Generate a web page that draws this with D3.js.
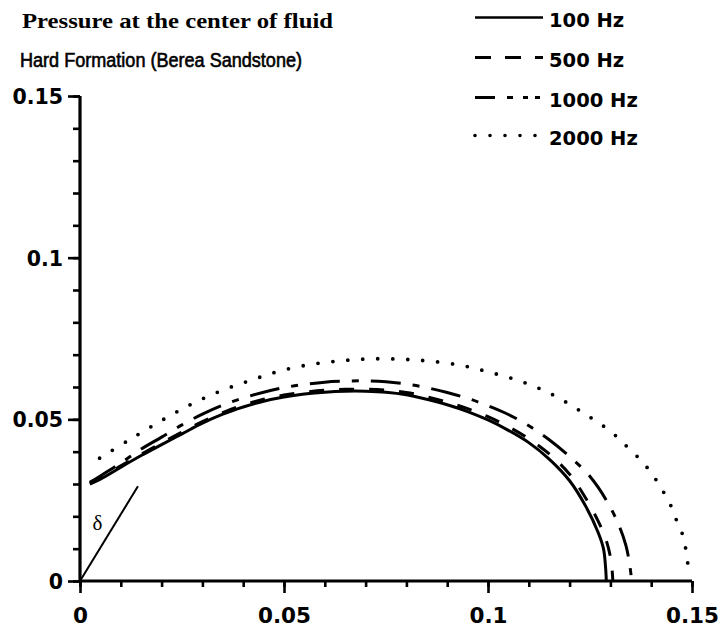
<!DOCTYPE html>
<html><head><meta charset="utf-8">
<script src="https://cdn.jsdelivr.net/npm/d3@7"></script>
<style>body{margin:0;background:#fff}svg{display:block}</style>
</head><body>
<svg id="c" width="722" height="631"></svg>
<script>
// ---- data ----
const titleLine1 = "Pressure at the center of fluid";
const titleLine2 = "Hard Formation (Berea Sandstone)";
const legendLabels = ["100 Hz", "500 Hz", "1000 Hz", "2000 Hz"];
const majorTicks = [0, 0.05, 0.1, 0.15];
const tickLabels = ["0", "0.05", "0.1", "0.15"];
const minorTicks = [0,0.01,0.02,0.03,0.04,0.05,0.06,0.07,0.08,0.09,0.10,0.11,0.12,0.13,0.14,0.15];

const hz100 = [[0.0024,0.0300],[0.005,0.0315],[0.01,0.0352],[0.015,0.0388],[0.02,0.0422],[0.025,0.0455],[0.03,0.0488],[0.035,0.0516],[0.04,0.0538],[0.045,0.0556],[0.05,0.0569],[0.055,0.0578],[0.06,0.0584],[0.065,0.0587],[0.07,0.0587],[0.075,0.0584],[0.08,0.0576],[0.085,0.0562],[0.09,0.0545],[0.095,0.0524],[0.10,0.0498],[0.105,0.0466],[0.11,0.0428],[0.115,0.0377],[0.12,0.0310],[0.124,0.0230],[0.127,0.0150],[0.1283,0.0100],[0.1288,0.0045],[0.129,0]];
const hz500 = [[0.0024,0.0302],[0.005,0.0318],[0.01,0.0356],[0.015,0.0392],[0.02,0.0427],[0.025,0.0461],[0.03,0.0493],[0.035,0.0521],[0.04,0.0544],[0.045,0.0562],[0.05,0.0575],[0.055,0.0584],[0.06,0.0590],[0.065,0.0593],[0.07,0.0593],[0.075,0.0590],[0.08,0.0583],[0.085,0.0570],[0.09,0.0553],[0.095,0.0533],[0.10,0.0508],[0.105,0.0477],[0.11,0.0440],[0.115,0.0393],[0.12,0.0330],[0.124,0.0255],[0.127,0.0185],[0.129,0.0125],[0.1302,0.0060],[0.1306,0]];
const hz1000 = [[0.0024,0.0305],[0.005,0.0325],[0.01,0.0365],[0.015,0.0408],[0.02,0.0445],[0.025,0.0483],[0.03,0.0516],[0.035,0.0544],[0.04,0.0566],[0.045,0.0584],[0.05,0.0598],[0.055,0.0608],[0.06,0.0615],[0.065,0.0618],[0.07,0.0619],[0.075,0.0616],[0.08,0.0609],[0.085,0.0598],[0.09,0.0583],[0.095,0.0565],[0.10,0.0542],[0.105,0.0515],[0.11,0.0480],[0.115,0.0437],[0.12,0.0385],[0.125,0.0323],[0.129,0.0250],[0.132,0.0175],[0.1338,0.0110],[0.1348,0.0045],[0.1352,0]];
const hz2000 = [[0.0048,0.0380],[0.0124,0.0439],[0.0198,0.0495],[0.0270,0.0545],[0.0345,0.0588],[0.0419,0.0621],[0.0491,0.0650],[0.0566,0.0670],[0.0639,0.0681],[0.0710,0.0687],[0.0786,0.0686],[0.0857,0.0680],[0.0934,0.0667],[0.1006,0.0645],[0.1082,0.0617],[0.1154,0.0579],[0.1226,0.0526],[0.1299,0.0464],[0.1337,0.0420],[0.1372,0.0377],[0.1401,0.0333],[0.1425,0.0286],[0.1446,0.0239],[0.1462,0.0188],[0.1477,0.0143],[0.1485,0.0097],[0.1490,0.0050],[0.1492,0.0015]];

const deltaLine = [[0,0],[0.0142,0.0293]];
const deltaText = "δ";
const deltaPos = [0.0043, 0.0158];

// ---- drawing ----
const svg = d3.select("#c");
const x = d3.scaleLinear().domain([0, 0.15]).range([80, 692]);
const y = d3.scaleLinear().domain([0, 0.15]).range([581, 96]);

const sans = "'Liberation Sans', Arial, Helvetica, sans-serif";
const wide = "'DejaVu Sans', Verdana, sans-serif";
const serif = "'Liberation Serif', 'Times New Roman', serif";

// titles
svg.append("text").attr("x", 22).attr("y", 28)
  .attr("font-family", serif).attr("font-weight", "bold").attr("font-size", 21)
  .attr("textLength", 311).attr("lengthAdjust", "spacingAndGlyphs")
  .text(titleLine1);
svg.append("text").attr("x", 20).attr("y", 67)
  .attr("font-family", sans).attr("font-size", 19.5)
  .attr("stroke", "#000").attr("stroke-width", 0.6)
  .attr("textLength", 282).attr("lengthAdjust", "spacingAndGlyphs")
  .text(titleLine2);

// axes - minor and major ticks
const gxm = svg.append("g").attr("transform", `translate(0,${y(0)})`)
  .call(d3.axisBottom(x).tickValues(minorTicks).tickSize(6).tickFormat(""));
const gxM = svg.append("g").attr("transform", `translate(0,${y(0)})`)
  .call(d3.axisBottom(x).tickValues(majorTicks).tickSize(12).tickFormat((d,i)=>tickLabels[i]));
const gym = svg.append("g").attr("transform", `translate(${x(0)},0)`)
  .call(d3.axisLeft(y).tickValues(minorTicks).tickSize(7).tickFormat(""));
const gyM = svg.append("g").attr("transform", `translate(${x(0)},0)`)
  .call(d3.axisLeft(y).tickValues(majorTicks).tickSize(12).tickFormat((d,i)=>tickLabels[i]));

svg.selectAll(".domain").remove();
svg.selectAll(".tick line").attr("stroke", "#000").attr("stroke-width", 2.6);
gxM.selectAll("text").attr("y", 42).attr("dy", 0)
  .attr("font-family", wide).attr("font-weight", "bold").attr("font-size", 21.5)
  .attr("fill", "#000");
gyM.selectAll("text").attr("x", -17).attr("dy", "0.36em")
  .attr("font-family", wide).attr("font-weight", "bold").attr("font-size", 20.5)
  .attr("fill", "#000");

// axis lines
svg.append("line").attr("x1", x(0)).attr("x2", x(0.15)).attr("y1", y(0)).attr("y2", y(0))
  .attr("stroke", "#000").attr("stroke-width", 3.2);
svg.append("line").attr("x1", x(0)).attr("x2", x(0)).attr("y1", y(0)).attr("y2", y(0.15))
  .attr("stroke", "#000").attr("stroke-width", 3.2);

// series
const line = d3.line().x(d => x(d[0])).y(d => y(d[1])).curve(d3.curveCatmullRom.alpha(0.5));
const seriesStyles = [
  {data: hz100, dash: null, w: 3, cap: "butt"},
  {data: hz500, dash: "15,15", w: 3, cap: "butt"},
  {data: hz1000, dash: "30,12,7,12", w: 3, cap: "butt"},
  {data: hz2000, dash: "0,15", w: 3.8, cap: "round"}
];
seriesStyles.forEach(s => {
  svg.append("path").attr("d", line(s.data)).attr("fill", "none")
    .attr("stroke", "#000").attr("stroke-width", s.w)
    .attr("stroke-linecap", s.cap)
    .attr("stroke-dasharray", s.dash);
});

// delta marker
svg.append("path").attr("d", d3.line().x(d => x(d[0])).y(d => y(d[1]))(deltaLine))
  .attr("stroke", "#000").attr("stroke-width", 2).attr("fill", "none");
svg.append("text").attr("x", x(deltaPos[0])).attr("y", y(deltaPos[1]))
  .attr("text-anchor", "middle").attr("font-family", serif).attr("font-size", 21)
  .text(deltaText);

// legend
const legendDash = [null, "16,14", "20,12,6,10,5,7,5,20", "0,15"];
const legendCap = ["butt", "butt", "butt", "round"];
const legendW = [2.6, 3, 3, 3.6];
const lg = svg.append("g");
legendLabels.forEach((lab, i) => {
  const base = [27, 67, 107, 145][i];
  lg.append("line").attr("x1", 475).attr("x2", i === 3 ? 536 : 543)
    .attr("y1", base - 9.5).attr("y2", base - 9.5)
    .attr("stroke", "#000").attr("stroke-width", legendW[i])
    .attr("stroke-linecap", legendCap[i]).attr("stroke-dasharray", legendDash[i]);
  lg.append("text").attr("x", 549).attr("y", base)
    .attr("font-family", wide).attr("font-weight", "bold").attr("font-size", 19.5)
    .text(lab);
});
</script>
</body></html>
